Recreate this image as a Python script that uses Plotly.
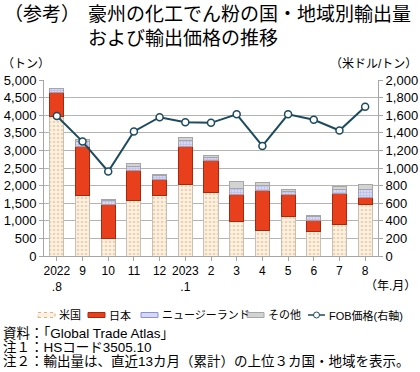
import plotly.graph_objects as go

categories = ["2022<br>.8", "9", "10", "11", "12", "2023<br>.1", "2", "3", "4", "5", "6", "7", "8"]
us = [3950, 1730, 510, 1590, 1730, 2020, 1800, 970, 720, 1110, 700, 890, 1460]
japan = [700, 1390, 960, 845, 450, 1100, 915, 775, 1130, 635, 300, 875, 210]
nz = [95, 130, 120, 115, 115, 160, 95, 170, 150, 95, 115, 130, 225]
other = [25, 50, 20, 90, 25, 75, 40, 205, 95, 45, 30, 75, 135]
fob = [1590, 1300, 960, 1415, 1577, 1520, 1513, 1610, 1250, 1610, 1548, 1426, 1696]
series_names = ["米国", "日本", "ニュージーランド", "その他", "FOB価格(右軸)"]

FONT = "Liberation Sans, Noto Sans CJK JP, sans-serif"
x = list(range(len(categories)))

US_BG, US_FG = "#FBF1E2", "#E2B27A"
JP_C, JP_L = "#E8401C", "#A8280E"
NZ_BG, NZ_FG = "#D6D8F4", "#8A92D6"
OT_C, OT_L = "#D3D3D3", "#A6A6A6"
LINE_C = "#1C4A5E"

fig = go.Figure()
fig.add_trace(go.Bar(
    x=x, y=us, name=series_names[0],
    marker=dict(color=US_BG, line=dict(color="#C8C0B4", width=1),
                pattern=dict(shape=".", fgcolor=US_FG, bgcolor=US_BG, size=4, solidity=0.35)),
))
fig.add_trace(go.Bar(
    x=x, y=japan, name=series_names[1],
    marker=dict(color=JP_C, line=dict(color=JP_L, width=1)),
))
fig.add_trace(go.Bar(
    x=x, y=nz, name=series_names[2],
    marker=dict(color=NZ_BG, line=dict(color="#A0A0B0", width=1),
                pattern=dict(shape="+", fgcolor=NZ_FG, bgcolor=NZ_BG, size=3, solidity=0.3)),
))
fig.add_trace(go.Bar(
    x=x, y=other, name=series_names[3],
    marker=dict(color=OT_C, line=dict(color=OT_L, width=1)),
))
fig.add_trace(go.Scatter(
    x=x, y=fob, name=series_names[4], yaxis="y2", mode="lines+markers",
    line=dict(color=LINE_C, width=2),
    marker=dict(symbol="circle", size=7, color="white", line=dict(color=LINE_C, width=1.5)),
))

fig.update_layout(
    width=420, height=372,
    margin=dict(l=44, r=42, t=80, b=116, autoexpand=False),
    paper_bgcolor="white", plot_bgcolor="white",
    barmode="stack", bargap=0.45,
    font=dict(family=FONT, size=12, color="#000000"),
    showlegend=False,
    xaxis=dict(
        tickmode="array", tickvals=x, ticktext=categories, range=[-0.5, 12.5],
        showgrid=False, showline=True, linecolor="#A6A6A6", linewidth=1,
        ticks="outside", ticklen=4, tickcolor="#A6A6A6", tickson="boundaries",
        tickfont=dict(size=12), zeroline=False,
    ),
    yaxis=dict(
        range=[0, 5000], dtick=500, tickformat=",d",
        showgrid=True, gridcolor="#B4B4B4", gridwidth=1,
        showline=True, linecolor="#A6A6A6", linewidth=1,
        ticks="outside", ticklen=4, tickcolor="#A6A6A6",
        tickfont=dict(size=13), zeroline=False,
    ),
    yaxis2=dict(
        range=[0, 2000], dtick=200, tickformat=",d", overlaying="y", side="right",
        showgrid=False, showline=True, linecolor="#A6A6A6", linewidth=1,
        ticks="outside", ticklen=4, tickcolor="#A6A6A6",
        tickfont=dict(size=13), zeroline=False,
    ),
)


def px(X):
    return (X - 44) / 334


def py(Y):
    return (256 - Y) / 176


def text(t, X, Y, size, anchor="left"):
    fig.add_annotation(text=t, xref="paper", yref="paper", x=px(X), y=py(Y),
                       xanchor=anchor, yanchor="middle", showarrow=False,
                       font=dict(family=FONT, size=size, color="#000000"))


text("（参考）", 2, 14, 19)
text("豪州の化工でん粉の国・地域別輸出量", 86, 14, 19)
text("および輸出価格の推移", 86, 38, 19)
text("（トン）", 0, 64, 12)
text("（米ドル/トン）", 419, 64, 12, anchor="right")
text("（年.月）", 418, 286, 12, anchor="right")
text("資料：「Global Trade Atlas」", 1, 333, 13.5)
text("注１：HSコード3505.10", 1, 347, 13.5)
text("注２：輸出量は、直近13カ月（累計）の上位３カ国・地域を表示。", 1, 361, 13.5)

# manual legend
LY = 315
legend_items = [
    (38, 55, US_BG, US_FG, "dot"),
    (88, 105, JP_C, JP_L, "solid"),
    (141, 158, NZ_BG, NZ_FG, "solid"),
    (247, 264, OT_C, OT_L, "solid"),
]
text_x = [57, 107, 160, 266, 327]
for (x0, x1, fc, lc, dash) in legend_items:
    fig.add_shape(type="rect", xref="paper", yref="paper",
                  x0=px(x0), x1=px(x1), y0=py(LY + 2.5), y1=py(LY - 2.5),
                  fillcolor=fc, line=dict(color=lc, width=1, dash=dash))
fig.add_shape(type="line", xref="paper", yref="paper",
              x0=px(308), x1=px(325), y0=py(LY), y1=py(LY),
              line=dict(color=LINE_C, width=1.5))
fig.add_shape(type="circle", xref="paper", yref="paper",
              x0=px(313.5), x1=px(319.5), y0=py(LY + 3), y1=py(LY - 3),
              fillcolor="white", line=dict(color=LINE_C, width=1))
for name, tx in zip(series_names, text_x):
    text(name, tx, LY, 11)

fig.write_html(
    "out.html",
    config={"displayModeBar": False},
    post_script="document.body.style.margin='0';document.body.style.overflow='hidden';",
)
